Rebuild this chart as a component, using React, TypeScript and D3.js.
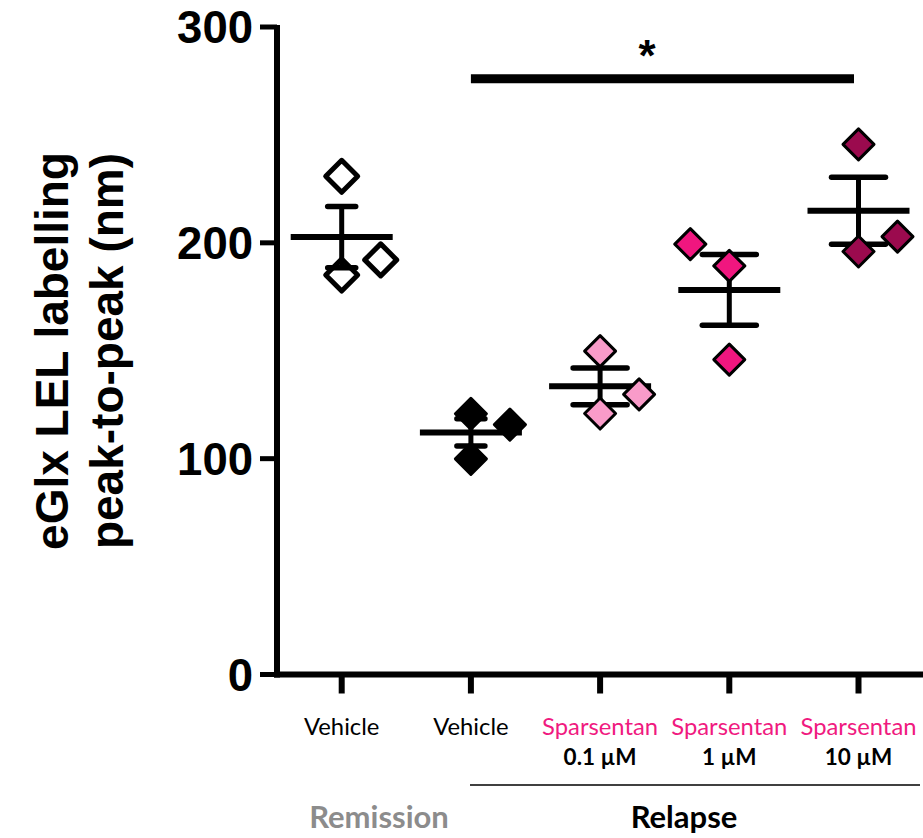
import React from "react";
import * as d3 from "d3";

const categories = ["rem-veh", "rel-veh", "sp-0.1", "sp-1", "sp-10"];
const labelTop = ["Vehicle", "Vehicle", "Sparsentan", "Sparsentan", "Sparsentan"];
const labelDose = ["", "", "0.1 µM", "1 µM", "10 µM"];
const values: number[][] = [
  [230.8, 185.1, 192.1],
  [120.8, 115.8, 99.9],
  [149.8, 129.8, 120.9],
  [199.4, 189.3, 145.9],
  [245.6, 202.9, 196.0],
];
const jitter: number[][] = [
  [0, 0, 1],
  [0, 1, 0],
  [0, 1, 0],
  [-1, 0, 0],
  [0, 1, 0],
];
const fills = ["none", "#000000", "#F99BC9", "#F0167F", "#9B0A4E"];
const yTicks = [0, 100, 200, 300];

const W = 923;
const H = 838;

export default function App() {
  const y = d3.scaleLinear().domain([0, 300]).range([674.5, 27]);
  const x = d3.scalePoint<string>().domain(categories).range([341.7, 858.5]);
  const axisX = 277;
  const jit = 39;
  const dpath = (r: number) => `M0,${-r}L${r},0L0,${r}L${-r},0Z`;
  const arial = "'Liberation Sans', Arial, sans-serif";
  const lbl = "Lato, 'Open Sans', sans-serif";

  return (
    <svg width={W} height={H} style={{ position: "absolute", left: 0, top: 0, background: "#fff" }}>
      {/* y axis */}
      <line x1={axisX} x2={axisX} y1={y(0) + 3} y2={y(300) - 2} stroke="#000" strokeWidth={6} />
      {yTicks.map((t) => (
        <g key={t}>
          <line x1={axisX - 17} x2={axisX} y1={y(t)} y2={y(t)} stroke="#000" strokeWidth={5} />
          <text x={253} y={y(t)} dy="0.36em" textAnchor="end" fontFamily={arial} fontWeight="bold" fontSize={45.5}>
            {t}
          </text>
        </g>
      ))}
      {/* x axis */}
      <line x1={axisX - 3} x2={W} y1={y(0)} y2={y(0)} stroke="#000" strokeWidth={6} />
      {categories.map((c) => (
        <line key={c} x1={x(c)} x2={x(c)} y1={y(0)} y2={y(0) + 19} stroke="#000" strokeWidth={6} />
      ))}
      {/* y label */}
      <g transform={`translate(52,351) rotate(-90)`}>
        <text textAnchor="middle" dominantBaseline="central" fontFamily={arial} fontWeight="bold" fontSize={46}>
          eGlx LEL labelling
        </text>
      </g>
      <g transform={`translate(107,351) rotate(-90)`}>
        <text textAnchor="middle" dominantBaseline="central" fontFamily={arial} fontWeight="bold" fontSize={46}>
          peak-to-peak (nm)
        </text>
      </g>
      {/* error bars and means */}
      {categories.map((c, i) => {
        const v = values[i];
        const m = d3.mean(v) as number;
        const sem = (d3.deviation(v) as number) / Math.sqrt(v.length);
        const cx = x(c) as number;
        const capHalf = i < 2 ? 14 : 27;
        return (
          <g key={c}>
            <line x1={cx} x2={cx} y1={y(m + sem)} y2={y(m - sem)} stroke="#000" strokeWidth={5} />
            <line x1={cx - capHalf} x2={cx + capHalf} y1={y(m + sem)} y2={y(m + sem)} stroke="#000" strokeWidth={5.5} strokeLinecap="round" />
            <line x1={cx - capHalf} x2={cx + capHalf} y1={y(m - sem)} y2={y(m - sem)} stroke="#000" strokeWidth={5.5} strokeLinecap="round" />
            <line x1={cx - 51} x2={cx + 51} y1={y(m)} y2={y(m)} stroke="#000" strokeWidth={6} />
          </g>
        );
      })}
      {/* points */}
      {categories.map((c, i) =>
        values[i].map((v, j) => {
          const cx = (x(c) as number) + jitter[i][j] * jit;
          const open = i === 0;
          return (
            <path
              key={`${c}-${j}`}
              d={dpath(open ? 16 : 15.5)}
              transform={`translate(${cx},${y(v)})`}
              fill={fills[i]}
              stroke="#000"
              strokeWidth={open ? 5 : 3}
              strokeLinejoin="round"
            />
          );
        })
      )}
      {/* significance */}
      <line x1={x("rel-veh")} x2={854} y1={78.7} y2={78.7} stroke="#000" strokeWidth={9} />
      <text x={647} y={71} textAnchor="middle" fontFamily={arial} fontWeight="bold" fontSize={44}>
        *
      </text>
      {/* x labels */}
      {categories.map((c, i) => (
        <g key={c}>
          <text x={x(c)} y={735} textAnchor="middle" fontFamily={lbl} fontSize={23.8} fill={i < 2 ? "#000" : "#F01A80"}>
            {labelTop[i]}
          </text>
          {labelDose[i] && (
            <text x={x(c)} y={765} textAnchor="middle" fontFamily={lbl} fontWeight="bold" fontSize={22.5} fill="#000">
              {labelDose[i]}
            </text>
          )}
        </g>
      ))}
      <line x1={470} x2={920} y1={785} y2={785} stroke="#000" strokeWidth={1.3} />
      <text x={379} y={828} textAnchor="middle" fontFamily={lbl} fontWeight="bold" fontSize={31} fill="#8C8C8C">
        Remission
      </text>
      <text x={684} y={828} textAnchor="middle" fontFamily={lbl} fontWeight="bold" fontSize={31} fill="#000">
        Relapse
      </text>
    </svg>
  );
}
